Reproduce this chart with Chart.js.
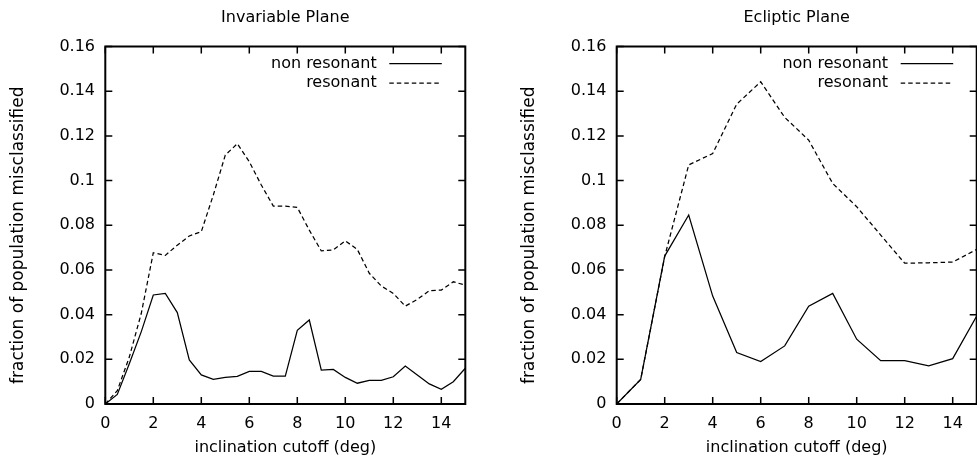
<!DOCTYPE html>
<html>
<head>
<meta charset="utf-8">
<script src="https://cdn.jsdelivr.net/npm/chart.js@4.4.1/dist/chart.umd.min.js"></script>
<style>
  html, body { margin: 0; padding: 0; background: #fff; }
  #wrap { position: relative; width: 977px; height: 461px; }
  canvas { position: absolute; top: 0; }
</style>
</head>
<body>
<div id="wrap">
  <canvas id="invariable" width="490" height="461" style="left:0;width:490px;height:461px"></canvas>
  <canvas id="ecliptic" width="487" height="461" style="left:490px;width:487px;height:461px"></canvas>
</div>
<script>
// tick labels
const xTicks = [0, 2, 4, 6, 8, 10, 12, 14];
const yTicks = [0, 0.02, 0.04, 0.06, 0.08, 0.1, 0.12, 0.14, 0.16];

const xTitle = 'inclination cutoff (deg)';
const yTitle = 'fraction of population misclassified';

// invariable plane, 0.5 deg steps
const invX = [0, 0.5, 1, 1.5, 2, 2.5, 3, 3.5, 4, 4.5, 5, 5.5, 6, 6.5, 7, 7.5,
              8, 8.5, 9, 9.5, 10, 10.5, 11, 11.5, 12, 12.5, 13, 13.5, 14, 14.5, 15];
const invNonRes = [0, 0.0043, 0.018, 0.0324, 0.0488, 0.0495, 0.0409, 0.0197, 0.013, 0.011,
                   0.0119, 0.0124, 0.0146, 0.0146, 0.0125, 0.0125, 0.033, 0.0376, 0.0152, 0.0155,
                   0.0119, 0.0093, 0.0106, 0.0106, 0.0122, 0.017, 0.013, 0.009, 0.0066, 0.01, 0.016];
const invRes = [0, 0.006, 0.021, 0.0406, 0.0677, 0.0665, 0.0711, 0.0752, 0.0771, 0.0935,
                0.1114, 0.1165, 0.1084, 0.098, 0.0886, 0.0886, 0.088, 0.0778, 0.0685, 0.069,
                0.073, 0.0692, 0.0585, 0.0528, 0.0495, 0.0438, 0.0468, 0.0507, 0.051, 0.0547, 0.0532];

// ecliptic plane, 1 deg steps
const eclX = [0, 1, 2, 3, 4, 5, 6, 7, 8, 9, 10, 11, 12, 13, 14, 15];
const eclNonRes = [0, 0.011, 0.0662, 0.0846, 0.0483, 0.023, 0.019, 0.026, 0.0438, 0.0495,
                   0.029, 0.0194, 0.0194, 0.0171, 0.0203, 0.0394];
const eclRes = [0, 0.011, 0.066, 0.107, 0.1121, 0.1342, 0.1442, 0.1283, 0.1181, 0.0987,
                0.0883, 0.0756, 0.063, 0.0632, 0.0635, 0.0692];

const FAMILY = "'DejaVu Sans', sans-serif";

// gnuplot style box: border, inward ticks on all sides, titles, key
const frame = {
  id: 'frame',
  afterDraw(chart, args, opts) {
    const { ctx, chartArea: a, scales: { x, y } } = chart;
    ctx.save();
    ctx.strokeStyle = '#000';
    ctx.lineWidth = 1.5;
    ctx.beginPath();
    xTicks.forEach(v => {
      const px = x.getPixelForValue(v);
      ctx.moveTo(px, a.bottom); ctx.lineTo(px, a.bottom - 7);
      ctx.moveTo(px, a.top); ctx.lineTo(px, a.top + 7);
    });
    yTicks.forEach(v => {
      const py = y.getPixelForValue(v);
      ctx.moveTo(a.left, py); ctx.lineTo(a.left + 7, py);
      ctx.moveTo(a.right, py); ctx.lineTo(a.right - 7, py);
    });
    ctx.stroke();
    ctx.lineWidth = 2;
    ctx.strokeRect(a.left, a.top, a.right - a.left, a.bottom - a.top);

    ctx.fillStyle = '#000';
    ctx.font = '16px ' + FAMILY;
    ctx.textAlign = 'center';
    ctx.textBaseline = 'middle';
    const cx = (a.left + a.right) / 2;
    ctx.fillText(opts.title, cx, 18);
    ctx.fillText(xTitle, cx, 448);

    ctx.save();
    ctx.translate(a.left - opts.yTitleOffset, (a.top + a.bottom) / 2 + 10);
    ctx.rotate(-Math.PI / 2);
    ctx.font = '17px ' + FAMILY;
    ctx.fillText(yTitle, 0, 0);
    ctx.restore();

    // key
    chart.data.datasets.forEach((ds, i) => {
      const ly = a.top + 17 + i * 19.5;
      ctx.textAlign = 'right';
      ctx.fillText(ds.label, a.right - 88.6, ly);
      ctx.lineWidth = 1.25;
      ctx.setLineDash(ds.borderDash || []);
      ctx.beginPath();
      ctx.moveTo(a.right - 76, ly);
      ctx.lineTo(a.right - 23.5, ly);
      ctx.stroke();
    });
    ctx.restore();
  }
};

function makeChart(id, title, xs, nonRes, res, yWidth, padRight, yTitleOffset) {
  return new Chart(document.getElementById(id), {
    type: 'line',
    data: {
      datasets: [
        {
          label: 'non resonant',
          data: xs.map((v, i) => ({ x: v, y: nonRes[i] })),
          borderColor: '#000',
          borderWidth: 1.25,
          pointRadius: 0,
          fill: false
        },
        {
          label: 'resonant',
          data: xs.map((v, i) => ({ x: v, y: res[i] })),
          borderColor: '#000',
          borderWidth: 1.25,
          borderDash: [4.5, 3],
          pointRadius: 0,
          fill: false
        }
      ]
    },
    options: {
      responsive: false,
      animation: false,
      events: [],
      layout: { padding: { left: 0, right: padRight, top: 46.5, bottom: 0 } },
      plugins: {
        legend: { display: false },
        tooltip: { enabled: false },
        frame: { title: title, yTitleOffset: yTitleOffset }
      },
      scales: {
        x: {
          type: 'linear',
          min: 0,
          max: 15,
          grid: { display: false, drawTicks: false },
          border: { display: false },
          afterBuildTicks: s => { s.ticks = xTicks.map(v => ({ value: v })); },
          afterFit: s => { s.height = 57; },
          ticks: { padding: 10.6, color: '#000', maxRotation: 0, autoSkip: false,
                   font: { family: FAMILY, size: 16 } }
        },
        y: {
          type: 'linear',
          min: 0,
          max: 0.16,
          grid: { display: false, drawTicks: false },
          border: { display: false },
          afterBuildTicks: s => { s.ticks = yTicks.map(v => ({ value: v })); },
          afterFit: s => { s.width = yWidth; },
          ticks: { padding: 10.3, color: '#000', autoSkip: false,
                   font: { family: FAMILY, size: 16 },
                   callback: v => String(+v.toFixed(2)) }
        }
      }
    },
    plugins: [frame]
  });
}

makeChart('invariable', 'Invariable Plane', invX, invNonRes, invRes, 105.3, 24.7, 86.3);
makeChart('ecliptic', 'Ecliptic Plane', eclX, eclNonRes, eclRes, 126.7, 0.3, 87.5);
</script>
</body>
</html>
